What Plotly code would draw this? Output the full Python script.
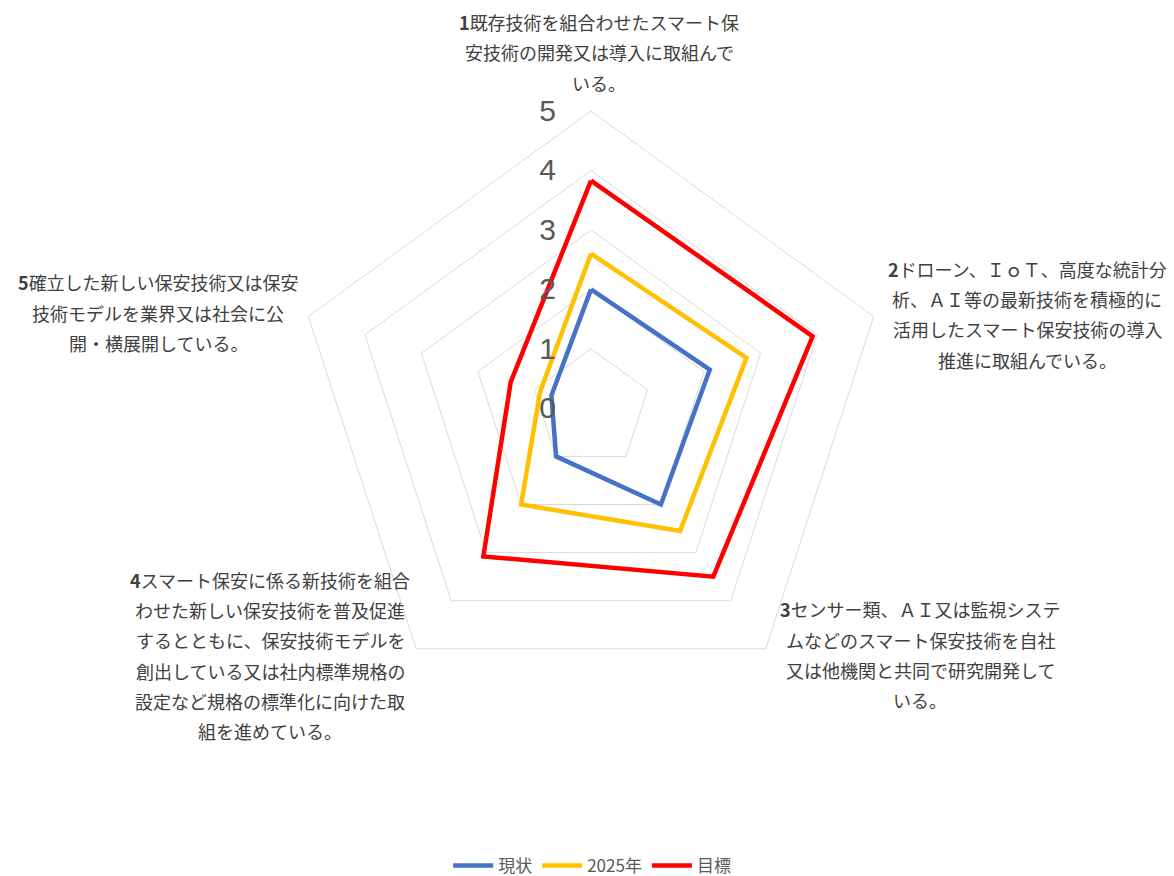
import plotly.graph_objects as go

# 5 evaluation items (axis order, clockwise from top)
categories = ["1", "2", "3", "4", "5"]
label_lines = [
    ["1既存技術を組合わせたスマート保", "安技術の開発又は導入に取組んで", "いる。"],
    ["2ドローン、ＩｏＴ、高度な統計分", "析、ＡＩ等の最新技術を積極的に", "活用したスマート保安技術の導入", "推進に取組んでいる。"],
    ["3センサー類、ＡＩ又は監視システ", "ムなどのスマート保安技術を自社", "又は他機関と共同で研究開発して", "いる。"],
    ["4スマート保安に係る新技術を組合", "わせた新しい保安技術を普及促進", "するとともに、保安技術モデルを", "創出している又は社内標準規格の", "設定など規格の標準化に向けた取", "組を進めている。"],
    ["5確立した新しい保安技術又は保安", "技術モデルを業界又は社会に公", "開・横展開している。"],
]

series_names = ["現状", "2025年", "目標"]
genjo = [2.0, 2.1, 2.0, 1.0, 0.7]
y2025 = [2.6, 2.75, 2.55, 2.0, 0.9]
mokuhyo = [3.83, 3.92, 3.5, 3.08, 1.42]
colors = ["#4472C4", "#FFC000", "#FF0000"]

W, H = 1174, 876
cx, cy, R = 583, 404, 300

fig = go.Figure()
for name, vals, col in zip(series_names, [genjo, y2025, mokuhyo], colors):
    fig.add_trace(go.Scatterpolar(
        r=vals + vals[:1], theta=categories + categories[:1],
        mode="lines", name=name, line=dict(color=col, width=4.5),
    ))

# label positions (pixel centres of first line), line step ~30px
label_pos = [(591, 14), (1019, 263), (912, 607), (262, 577), (150, 277)]
anns = []
for lines, (lx, ly) in zip(label_lines, label_pos):
    for j, ln in enumerate(lines):
        txt = ln
        if j == 0:
            txt = "<b>" + ln[0] + "</b>" + ln[1:]
        anns.append(dict(
            x=lx / W, y=1 - (ly + j * 30.6) / H, xref="paper", yref="paper",
            text=txt, showarrow=False, xanchor="center", yanchor="middle",
            font=dict(size=18, color="#404040", family="Noto Sans CJK JP"),
        ))

fig.update_layout(
    width=W, height=H,
    margin=dict(l=0, r=0, t=0, b=0),
    paper_bgcolor="white",
    font=dict(family="Noto Sans CJK JP", color="#595959"),
    polar=dict(
        domain=dict(x=[(cx - R) / W, (cx + R) / W], y=[1 - (cy + R) / H, 1 - (cy - R) / H]),
        bgcolor="white",
        gridshape="linear",
        angularaxis=dict(rotation=90, direction="clockwise", showgrid=False,
                         showticklabels=False, ticks="", showline=True,
                         linecolor="#D9D9D9", linewidth=1),
        radialaxis=dict(range=[0, 5], dtick=1, angle=90, tickangle=90,
                        side="counterclockwise", showline=False,
                        gridcolor="#D9D9D9", gridwidth=1,
                        ticks="outside", ticklen=24, tickcolor="rgba(0,0,0,0)",
                        tickfont=dict(size=30, color="#595959", family="Liberation Sans")),
    ),
    annotations=anns,
    legend=dict(orientation="h", x=0.4976, xanchor="center", y=1 - 866 / H, yanchor="middle",
                font=dict(size=17, color="#595959"), itemwidth=40),
)

fig.write_html("out.html")
